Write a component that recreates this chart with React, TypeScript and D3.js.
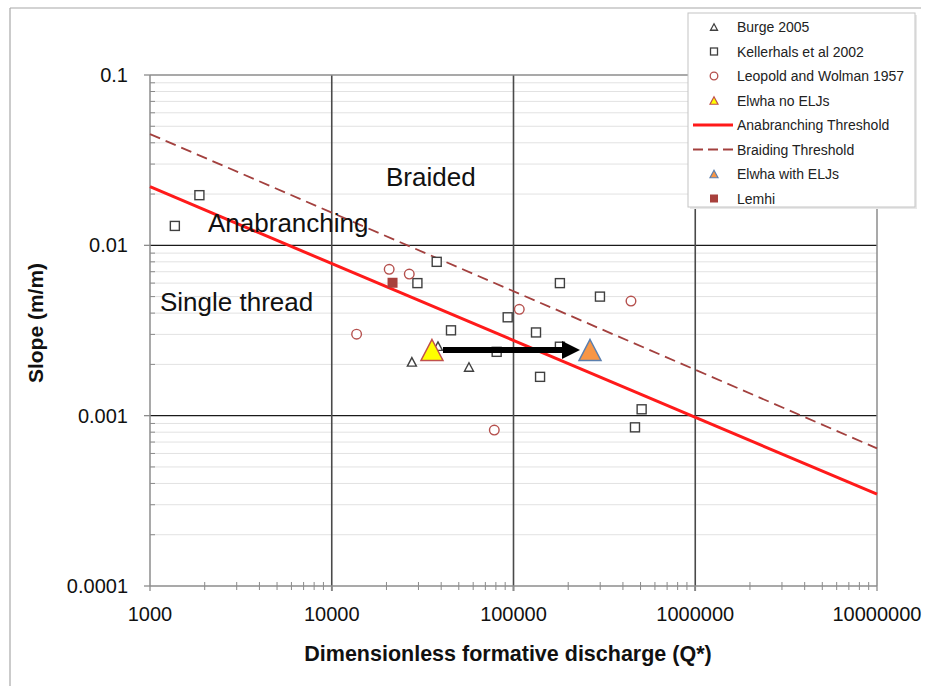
import React from "react";
import * as d3 from "d3";

// ---- data ----
const burgeQ = [27600, 56900, 38400];
const burgeS = [0.00207, 0.00193, 0.00256];

const kellerQ = [1370, 1870, 37800, 29600, 45300, 180000, 299000, 92900, 133000, 80800, 180000, 140000, 507000, 466000];
const kellerS = [0.013, 0.0197, 0.008, 0.006, 0.00317, 0.006, 0.005, 0.00378, 0.00308, 0.00237, 0.00254, 0.00169, 0.00109, 0.000854];

const leopoldQ = [20700, 26700, 13700, 107600, 443000, 78400];
const leopoldS = [0.00723, 0.00678, 0.00301, 0.00421, 0.00471, 0.000823];

const lemhiQ = [21600];
const lemhiS = [0.00603];

const elwhaNoQ = [35600];
const elwhaNoS = [0.00243];
const elwhaWithQ = [263600];
const elwhaWithS = [0.00243];

const anabranchQ = [1000, 10000000];
const anabranchS = [0.0221, 0.000346];
const braidQ = [1000, 10000000];
const braidS = [0.045, 0.000643];

const xTicks = [1000, 10000, 100000, 1000000, 10000000];
const xTickLabels = ["1000", "10000", "100000", "1000000", "10000000"];
const yTicks = [0.0001, 0.001, 0.01, 0.1];
const yTickLabels = ["0.0001", "0.001", "0.01", "0.1"];

const legendLabels = [
  "Burge 2005",
  "Kellerhals et al 2002",
  "Leopold and Wolman 1957",
  "Elwha no ELJs",
  "Anabranching Threshold",
  "Braiding Threshold",
  "Elwha with ELJs",
  "Lemhi",
];

const regionLabels = ["Braided", "Anabranching", "Single thread"];
const xTitle = "Dimensionless formative discharge (Q*)";
const yTitle = "Slope (m/m)";

const FONT = "'Liberation Sans', Arial, Helvetica, sans-serif";

function tri(cx: number, cy: number, w: number, h: number) {
  return `M${cx},${cy - h / 2}L${cx + w / 2},${cy + h / 2}L${cx - w / 2},${cy + h / 2}Z`;
}

export default function App() {
  const W = 930,
    H = 686;
  const left = 150,
    right = 877,
    top = 75,
    bottom = 586;
  const x = d3.scaleLog().domain([1000, 10000000]).range([left, right]);
  const y = d3.scaleLog().domain([0.0001, 0.1]).range([bottom, top]);

  // minor gridlines
  const minorY: number[] = [];
  for (let e = -4; e < -1; e++) for (let k = 2; k <= 9; k++) minorY.push(k * Math.pow(10, e));
  const minorX: number[] = [];
  for (let e = 3; e < 7; e++) for (let k = 2; k <= 9; k++) minorX.push(k * Math.pow(10, e));

  const line = d3
    .line<[number, number]>()
    .x((d) => x(d[0]))
    .y((d) => y(d[1]));
  const anaPts = anabranchQ.map((q, i) => [q, anabranchS[i]] as [number, number]);
  const braidPts = braidQ.map((q, i) => [q, braidS[i]] as [number, number]);

  const squareColor = "#404040";
  const circleColor = "#b5504d";
  const lemhiColor = "#a8403c";

  // arrow
  const ax1 = x(elwhaNoQ[0]) + 11;
  const tip = x(elwhaWithQ[0]) - 10;
  const ay = y(elwhaNoS[0]);
  const headLen = 18;
  const headHalf = 9;

  const legX = 688,
    legY = 13,
    legW = 227,
    legH = 194;
  const legRow = (i: number) => 27 + i * 24.5;

  return (
    <svg
      width={W}
      height={H}
      style={{ position: "absolute", left: 0, top: 0, background: "#fff" }}
      fontFamily={FONT}
    >
      <rect x={0} y={0} width={W} height={H} fill="#fff" />
      {/* outer frame */}
      <line x1={10} y1={8} x2={921} y2={8} stroke="#a8a8a8" strokeWidth={1.2} />
      <line x1={10} y1={8} x2={10} y2={686} stroke="#a8a8a8" strokeWidth={1.2} />

      {/* minor horizontal gridlines */}
      {minorY.map((v, i) => (
        <line key={"my" + i} x1={left} x2={right} y1={y(v)} y2={y(v)} stroke="#e2e2e2" strokeWidth={1} />
      ))}
      {/* minor y ticks */}
      {minorY.map((v, i) => (
        <line key={"myt" + i} x1={left} x2={left + 5} y1={y(v)} y2={y(v)} stroke="#8a8a8a" strokeWidth={1} />
      ))}
      {/* minor x ticks */}
      {minorX.map((v, i) => (
        <line key={"mxt" + i} x1={x(v)} x2={x(v)} y1={bottom - 4} y2={bottom + 4} stroke="#8a8a8a" strokeWidth={1} />
      ))}
      {/* major horizontal gridlines */}
      {yTicks.slice(1, 3).map((v, i) => (
        <line key={"My" + i} x1={left} x2={right} y1={y(v)} y2={y(v)} stroke="#1a1a1a" strokeWidth={1.3} />
      ))}
      {/* major vertical gridlines */}
      {xTicks.slice(1, 4).map((v, i) => (
        <line key={"Mx" + i} x1={x(v)} x2={x(v)} y1={top} y2={bottom + 5} stroke="#4a4a4a" strokeWidth={1.6} />
      ))}
      {/* plot frame */}
      <line x1={left} x2={right} y1={top} y2={top} stroke="#8c8c8c" strokeWidth={1.5} />
      <line x1={right} x2={right} y1={top} y2={bottom} stroke="#8c8c8c" strokeWidth={1.5} />
      <line x1={left} x2={right} y1={bottom} y2={bottom} stroke="#8c8c8c" strokeWidth={1.5} />
      <line x1={left} x2={left} y1={top} y2={bottom} stroke="#8c8c8c" strokeWidth={1.5} />
      {/* major ticks */}
      {yTicks.map((v, i) => (
        <line key={"yt" + i} x1={left - 6} x2={left} y1={y(v)} y2={y(v)} stroke="#8c8c8c" strokeWidth={1.3} />
      ))}
      {xTicks.map((v, i) => (
        <line key={"xt" + i} x1={x(v)} x2={x(v)} y1={bottom} y2={bottom + 5} stroke="#8c8c8c" strokeWidth={1.3} />
      ))}

      {/* tick labels */}
      {yTicks.map((v, i) => (
        <text key={"yl" + i} x={128} y={y(v) + 7} textAnchor="end" fontSize={20} fill="#111">
          {yTickLabels[i]}
        </text>
      ))}
      {xTicks.map((v, i) => (
        <text key={"xl" + i} x={x(v)} y={621} textAnchor="middle" fontSize={20} fill="#111">
          {xTickLabels[i]}
        </text>
      ))}

      {/* axis titles */}
      <text x={508} y={661} textAnchor="middle" fontSize={21.5} fontWeight="bold" fill="#111">
        {xTitle}
      </text>
      <text
        transform={`translate(43,323) rotate(-90)`}
        textAnchor="middle"
        fontSize={21}
        fontWeight="bold"
        fill="#111"
      >
        {yTitle}
      </text>

      {/* threshold lines */}
      <path d={line(braidPts) || ""} fill="none" stroke="#a3403e" strokeWidth={1.8} strokeDasharray="11,6" />
      <path d={line(anaPts) || ""} fill="none" stroke="#ff1a1a" strokeWidth={3} />

      {/* Kellerhals squares */}
      {kellerQ.map((q, i) => (
        <rect
          key={"k" + i}
          x={x(q) - 4.5}
          y={y(kellerS[i]) - 4.5}
          width={9}
          height={9}
          fill="#fff"
          stroke={squareColor}
          strokeWidth={1.4}
        />
      ))}
      {/* Leopold circles */}
      {leopoldQ.map((q, i) => (
        <circle key={"l" + i} cx={x(q)} cy={y(leopoldS[i])} r={4.8} fill="#fff" stroke={circleColor} strokeWidth={1.4} />
      ))}
      {/* Burge triangles */}
      {burgeQ.map((q, i) => (
        <path key={"b" + i} d={tri(x(q), y(burgeS[i]), 9, 8.5)} fill="#fff" stroke="#404040" strokeWidth={1.4} />
      ))}
      {/* Lemhi */}
      {lemhiQ.map((q, i) => (
        <rect key={"le" + i} x={x(q) - 5} y={y(lemhiS[i]) - 5} width={10} height={10} fill={lemhiColor} />
      ))}

      {/* arrow */}
      <line x1={ax1} y1={ay} x2={tip - headLen + 1} y2={ay} stroke="#000" strokeWidth={6} />
      <path
        d={`M${tip},${ay}L${tip - headLen},${ay - headHalf}L${tip - headLen},${ay + headHalf}Z`}
        fill="#000"
      />

      {/* Elwha markers */}
      {elwhaNoQ.map((q, i) => (
        <path key={"en" + i} d={tri(x(q), y(elwhaNoS[i]), 22, 21)} fill="#ffff00" stroke="#c0504d" strokeWidth={1.5} />
      ))}
      {elwhaWithQ.map((q, i) => (
        <path key={"ew" + i} d={tri(x(q), y(elwhaWithS[i]), 22, 21)} fill="#f79646" stroke="#5b7fae" strokeWidth={1.5} />
      ))}

      {/* region labels */}
      <text x={386} y={186} fontSize={26} fill="#111">
        {regionLabels[0]}
      </text>
      <text x={208} y={232} fontSize={26} fill="#111">
        {regionLabels[1]}
      </text>
      <text x={160} y={311} fontSize={26} fill="#111">
        {regionLabels[2]}
      </text>

      {/* legend */}
      <rect x={legX + 2} y={legY + 2} width={legW} height={legH} fill="#e8e8e8" />
      <rect x={legX} y={legY} width={legW} height={legH} fill="#fff" stroke="#c4c4c4" strokeWidth={1} />
      {legendLabels.map((lab, i) => {
        const cy = legRow(i);
        const mx = 714;
        let marker: React.ReactNode = null;
        if (i === 0) marker = <path d={tri(mx, cy, 7, 6.5)} fill="#fff" stroke="#404040" strokeWidth={1.3} />;
        else if (i === 1)
          marker = <rect x={mx - 3.5} y={cy - 3.5} width={7} height={7} fill="#fff" stroke={squareColor} strokeWidth={1.3} />;
        else if (i === 2) marker = <circle cx={mx} cy={cy} r={3.8} fill="#fff" stroke={circleColor} strokeWidth={1.3} />;
        else if (i === 3) marker = <path d={tri(mx, cy, 8, 7.5)} fill="#ffff00" stroke="#c0504d" strokeWidth={1.2} />;
        else if (i === 4) marker = <line x1={693} x2={733} y1={cy} y2={cy} stroke="#ff1a1a" strokeWidth={3} />;
        else if (i === 5)
          marker = <line x1={693} x2={733} y1={cy} y2={cy} stroke="#a3403e" strokeWidth={1.8} strokeDasharray="10,5" />;
        else if (i === 6) marker = <path d={tri(mx, cy, 8, 7.5)} fill="#f79646" stroke="#5b7fae" strokeWidth={1.2} />;
        else if (i === 7) marker = <rect x={mx - 4} y={cy - 4} width={8} height={8} fill={lemhiColor} />;
        return (
          <g key={"leg" + i}>
            {marker}
            <text x={737} y={cy + 5} fontSize={14} fill="#222">
              {lab}
            </text>
          </g>
        );
      })}
    </svg>
  );
}
